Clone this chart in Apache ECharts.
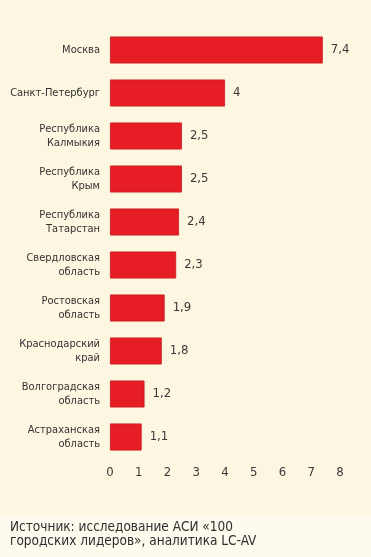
<!DOCTYPE html>
<html><head><meta charset="utf-8">
<script src="https://cdn.jsdelivr.net/npm/echarts@6/dist/echarts.min.js"></script>
<style>html,body{margin:0;padding:0;background:#fdf6e1;}#c{width:371px;height:557px;}</style>
</head><body><div id="c"></div>
<script>
const categories = ["Москва","Санкт-Петербург","Республика\nКалмыкия","Республика\nКрым","Республика\nТатарстан","Свердловская\nобласть","Ростовская\nобласть","Краснодарский\nкрай","Волгоградская\nобласть","Астраханская\nобласть"];
const values = [7.4, 4, 2.5, 2.5, 2.4, 2.3, 1.9, 1.8, 1.2, 1.1];
const xTicks = [0,1,2,3,4,5,6,7,8];
const sourceText = "Источник: исследование АСИ «100\nгородских лидеров», аналитика LC-AV";

const FONT = "'Liberation Sans Narrow','DejaVu Sans Condensed','Roboto Condensed',sans-serif";
const chart = echarts.init(document.getElementById('c'), null, {renderer:'canvas'});
chart.setOption({
  backgroundColor: '#fdf6e1',
  animation: false,
  graphic: [
    {type:'rect', shape:{x:0,y:514,width:371,height:43}, style:{fill:'#fefaee'}, z:-1},
    {type:'text', left:10, top:520, style:{text:sourceText, font:"13.5px "+FONT, fill:'#2e2e2e', lineHeight:14}}
  ],
  grid: {left:110, right:31, top:28.5, bottom:98.5, containLabel:false},
  xAxis: {
    type:'value', min:0, max:8, interval:1,
    axisLine:{show:false}, axisTick:{show:false},
    splitLine:{show:false},
    axisLabel:{color:'#3a3a3a', fontSize:13, fontFamily:FONT, margin:8,
      formatter: v => xTicks.includes(v) ? String(v) : ''}
  },
  yAxis: {
    type:'category', inverse:true, data:categories,
    axisLine:{show:false}, axisTick:{show:false},
    axisLabel:{color:'#333', fontSize:11, fontFamily:FONT, margin:10, lineHeight:14, align:'right'}
  },
  series: [{
    type:'bar', data:values, barWidth:27,
    itemStyle:{color:'#e71d26', borderColor:'#c8161d', borderWidth:0.8},
    label:{show:true, position:'right', distance:8, color:'#3a3a3a', fontSize:13, fontFamily:FONT,
      formatter: p => String(p.value).replace('.', ',')}
  }]
});
</script></body></html>
